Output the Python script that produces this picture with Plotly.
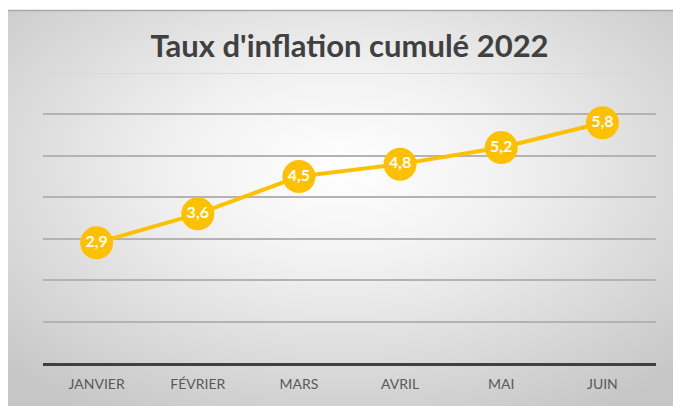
import base64
import plotly.graph_objects as go

months = ["JANVIER", "FÉVRIER", "MARS", "AVRIL", "MAI", "JUIN"]
inflation = [2.9, 3.6, 4.5, 4.8, 5.2, 5.8]
labels = [f"{v:.1f}".replace(".", ",") for v in inflation]
title_text = "Taux d'inflation cumulé 2022"

W, H = 673, 406
L, R, T, B = 43, 17, 73, 43
pw, ph = W - L - R, H - T - B

svg = (
    '<svg xmlns="http://www.w3.org/2000/svg" width="665" height="396" preserveAspectRatio="none">'
    '<defs><radialGradient id="g" cx="50%" cy="40%" r="72%">'
    '<stop offset="0" stop-color="#ffffff"/>'
    '<stop offset="0.35" stop-color="#f1f1f1"/>'
    '<stop offset="1" stop-color="#c6c6c6"/>'
    '</radialGradient></defs>'
    '<rect width="665" height="396" fill="url(#g)"/></svg>'
)
src = "data:image/svg+xml;base64," + base64.b64encode(svg.encode()).decode()

def px_x(x):
    return (x - L) / pw

def px_y(y):
    return (H - B - y) / ph

fig = go.Figure()
fig.add_trace(go.Scatter(
    x=months, y=inflation, mode="lines+markers+text",
    line=dict(color="#FFC000", width=4),
    marker=dict(size=33, color="#FFC000", line=dict(width=0)),
    text=labels, textposition="middle center",
    textfont=dict(family="Lato", size=16, color="white", weight="bold"),
    cliponaxis=False, hoverinfo="skip", showlegend=False,
))

fig.add_layout_image(dict(
    source=src, xref="paper", yref="paper",
    x=px_x(8), y=px_y(10), sizex=(W - 8) / pw, sizey=(H - 10) / ph,
    xanchor="left", yanchor="top", sizing="stretch", layer="below",
))
fig.add_shape(type="line", xref="paper", yref="paper",
              x0=px_x(8), x1=px_x(W), y0=px_y(10.5), y1=px_y(10.5),
              line=dict(color="#a9a9a9", width=1.5))
# faint top gridline at the axis maximum
fig.add_shape(type="line", xref="paper", yref="y", layer="below",
              x0=0, x1=1, y0=7, y1=7, line=dict(color="#d6d6d6", width=1.5))

fig.update_layout(
    width=W, height=H,
    margin=dict(l=L, r=R, t=T, b=B),
    paper_bgcolor="white", plot_bgcolor="rgba(0,0,0,0)",
    title=dict(text=title_text, xref="paper", x=0.5, xanchor="center",
               y=1 - 46 / H, yanchor="middle",
               font=dict(family="Lato", size=31, color="#404040", weight="bold")),
    xaxis=dict(type="category", range=[-0.53, 5.53], showgrid=False, showline=True,
               linecolor="#404040", linewidth=3, ticks="", zeroline=False,
               tickfont=dict(family="Lato", size=14, color="#595959"), ticklabelstandoff=6),
    yaxis=dict(range=[0, 7], dtick=1, showticklabels=False, showgrid=True,
               gridcolor="#b3b3b3", gridwidth=1.5, zeroline=False, showline=False, fixedrange=True),
)

fig.write_html("out.html")
